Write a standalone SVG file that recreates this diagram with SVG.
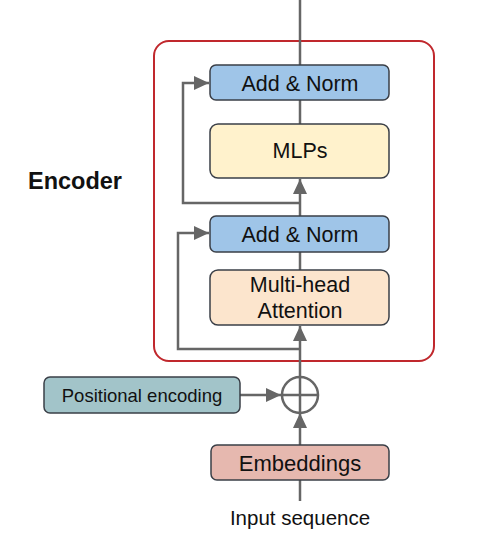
<svg xmlns="http://www.w3.org/2000/svg" width="480" height="536" viewBox="0 0 480 536">
<style>
.box{stroke:#3a3f47;stroke-width:1.5}
.lbl{font-family:"Liberation Sans",Arial,sans-serif;font-size:21.5px;fill:#111;text-anchor:middle}
.ln{fill:none;stroke:#666;stroke-width:2.5}
</style>
<defs>
<marker id="ah" markerUnits="userSpaceOnUse" markerWidth="16" markerHeight="14" refX="15" refY="7" orient="auto">
<path d="M0,0 L15,7 L0,14 Z" fill="#666"/>
</marker>
</defs>
<rect x="0" y="0" width="480" height="536" fill="#fff"/>
<g id="encoder">
<rect x="154" y="41" width="280" height="320" rx="15" fill="none" stroke="#c0282d" stroke-width="2"/>
<text x="75" y="189" font-family="Liberation Sans,Arial,sans-serif" font-size="23.5" font-weight="bold" text-anchor="middle" fill="#111">Encoder</text>
</g>
<g id="connectors">
<line class="ln" x1="300" y1="0" x2="300" y2="65"/>
<line class="ln" x1="300" y1="100" x2="300" y2="124"/>
<line class="ln" x1="300" y1="216" x2="300" y2="179" marker-end="url(#ah)"/>
<polyline class="ln" points="300,203 183,203 183,83 209,83" marker-end="url(#ah)"/>
<line class="ln" x1="300" y1="252" x2="300" y2="270"/>
<line class="ln" x1="300" y1="376" x2="300" y2="326" marker-end="url(#ah)"/>
<polyline class="ln" points="300,349 178,349 178,233 209,233" marker-end="url(#ah)"/>
<line class="ln" x1="240" y1="395" x2="281" y2="395" marker-end="url(#ah)"/>
<line class="ln" x1="300" y1="445" x2="300" y2="413" marker-end="url(#ah)"/>
<line class="ln" x1="300" y1="480" x2="300" y2="501"/>
</g>
<g id="add-norm-2">
<rect class="box" x="210" y="65" width="179" height="35" rx="6" fill="#9fc5e8"/>
<text class="lbl" x="300" y="91">Add &amp; Norm</text>
</g>
<g id="mlps">
<rect class="box" x="210" y="124" width="179" height="54" rx="8" fill="#fff2cc"/>
<text class="lbl" x="300" y="158">MLPs</text>
</g>
<g id="add-norm-1">
<rect class="box" x="210" y="216" width="179" height="36" rx="6" fill="#9fc5e8"/>
<text class="lbl" x="300" y="242">Add &amp; Norm</text>
</g>
<g id="attention">
<rect class="box" x="210" y="270" width="179" height="55" rx="8" fill="#fce5cd"/>
<text class="lbl" x="300" y="292">Multi-head</text>
<text class="lbl" x="300" y="318">Attention</text>
</g>
<g id="add">
<circle cx="300" cy="395" r="18" fill="#fff" stroke="#666" stroke-width="2.5"/>
<line class="ln" x1="282" y1="395" x2="318" y2="395"/>
<line class="ln" x1="300" y1="377" x2="300" y2="413"/>
</g>
<g id="positional-encoding">
<rect class="box" x="44" y="377" width="196" height="36" rx="6" fill="#a2c4c9"/>
<text class="lbl" x="142" y="402" style="font-size:18.5px">Positional encoding</text>
</g>
<g id="embeddings">
<rect class="box" x="211" y="445" width="178" height="35" rx="6" fill="#e6b8af"/>
<text class="lbl" x="300" y="471" style="font-size:22px">Embeddings</text>
</g>
<g id="input">
<text class="lbl" x="300" y="525" style="font-size:20.5px">Input sequence</text>
</g>
</svg>
